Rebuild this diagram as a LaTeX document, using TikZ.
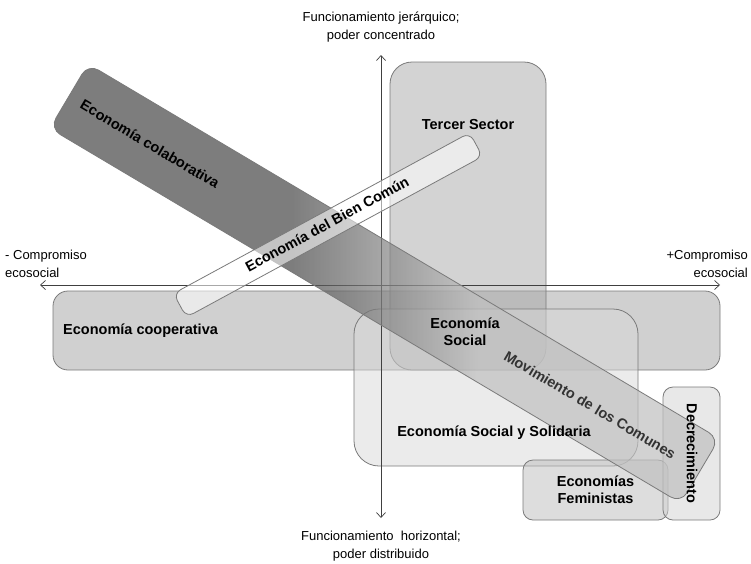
\documentclass[tikz,border=0pt]{standalone}
\usepackage{fontspec}
\setmainfont{Liberation Sans}
\usetikzlibrary{arrows.meta}
\definecolor{edgegray}{HTML}{7A7A7A}
\definecolor{axisgray}{HTML}{404040}
\definecolor{coopfill}{HTML}{D0D0D0}
\definecolor{tsfill}{HTML}{A8A8A8}
\definecolor{esysfill}{HTML}{D8D8D8}
\definecolor{femfill}{HTML}{BDBDBD}
\definecolor{decfill}{HTML}{D2D2D2}
\definecolor{barA}{HTML}{464646}
\definecolor{barB}{HTML}{C0C0C0}
\pgfdeclarehorizontalshading{colabshade}{100bp}{color(0bp)=(barA); color(43bp)=(barA); color(57bp)=(barB); color(100bp)=(barB)}
\tikzset{
  box/.style={draw=edgegray, line width=0.8pt, rounded corners=#1},
  box/.default=15pt,
  lbl/.style={font=\fontsize{14.5}{17}\selectfont\bfseries, align=center, inner sep=0pt},
  axlbl/.style={font=\fontsize{13}{17.5}\selectfont, inner sep=0pt},
  axis/.style={draw=axisgray, line width=0.7pt, {Straight Barb[length=5pt,width=9pt]}-{Straight Barb[length=5pt,width=9pt]}}
}
\begin{document}
\begin{tikzpicture}[x=1pt, y=-1pt]
\useasboundingbox[fill=white] (0,0) rectangle (751,563);
% boxes
\node[box=15pt, fill=coopfill, minimum width=667pt, minimum height=79pt] (coop) at (386.5,330.5) {};
\node[box=22pt, fill=tsfill, fill opacity=0.5, minimum width=156pt, minimum height=308pt] (ts) at (468,216) {};
\node[box=25pt, fill=esysfill, fill opacity=0.5, minimum width=284pt, minimum height=157pt] (esys) at (496,387.5) {};
\node[box=10pt, fill=femfill, fill opacity=0.5, minimum width=145pt, minimum height=60pt] (fem) at (595.5,490) {};
\node[box=10pt, fill=decfill, fill opacity=0.5, minimum width=57pt, minimum height=133pt] (dec) at (691.5,453.5) {};
% axes
\coordinate (xl) at (40,285);
\coordinate (xr) at (720,285);
\coordinate (yt) at (381,55);
\coordinate (yb) at (381,518);
\draw[axis] (xl) -- (xr);
\draw[axis] (yb) -- (yt);
% diagonal bars
\node[box=12pt, shading=colabshade, fill opacity=0.7, minimum width=734pt, minimum height=75pt, rotate=-30.7] (colab) at (384.5,283.5) {};
\node[box=8pt, fill=white, fill opacity=0.55, minimum width=337pt, minimum height=27pt, rotate=28.5] (ebc) at (328,225) {};
% labels
\node[lbl, rotate=-30.7] (tcolab) at (150,144) {Economía colaborativa};
\node[lbl, rotate=-30.7, text=black!80] (tmov) at (590,405) {Movimiento de los Comunes};
\node[lbl, rotate=28.5] (tebc) at (327,224) {Economía del Bien Común};
\node[lbl, anchor=west] (tcoop) at (63,331) {Economía cooperativa};
\node[lbl] (tts) at (468,125) {Tercer Sector};
\node[lbl] (tes) at (465,332) {Economía\\Social};
\node[lbl] (tesys) at (494,433) {Economía Social y Solidaria};
\node[lbl] (tfem) at (595.5,490) {Economías\\Feministas};
\node[lbl, rotate=-90] (tdec) at (692,453.5) {Decrecimiento};
% axis labels
\node[axlbl, align=center] (top) at (381,27) {Funcionamiento jerárquico;\\poder concentrado};
\node[axlbl, align=center] (bot) at (381,546) {Funcionamiento\ \ horizontal;\\poder distribuido};
\node[axlbl, align=left, anchor=west] (left) at (5,264) {- Compromiso\\ecosocial};
\node[axlbl, align=right, anchor=east] (right) at (748,264) {+Compromiso\\ecosocial};
\end{tikzpicture}
\end{document}
